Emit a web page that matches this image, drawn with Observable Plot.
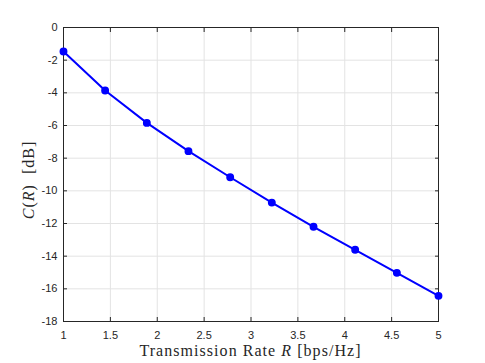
<!DOCTYPE html>
<html><head><meta charset="utf-8">
<script src="https://cdn.jsdelivr.net/npm/d3@7"></script>
<script src="https://cdn.jsdelivr.net/npm/@observablehq/plot@0.6"></script>
<style>body{margin:0;background:#fff}</style>
</head><body><div id="chart"></div>
<script>
const rates = [1, 1.444, 1.889, 2.333, 2.778, 3.222, 3.667, 4.111, 4.556, 5];
const cost = [-1.47, -3.86, -5.84, -7.57, -9.17, -10.72, -12.2, -13.61, -15.02, -16.43];
const xTicks = [1, 1.5, 2, 2.5, 3, 3.5, 4, 4.5, 5];
const yTicks = [0, -2, -4, -6, -8, -10, -12, -14, -16, -18];

const data = rates.map((r, i) => ({r, c: cost[i]}));
const axisColor = "#262626";
const W = 485, H = 363, mL = 63, mR = 47, mT = 27, mB = 42;

const plot = Plot.plot({
  width: W, height: H,
  marginLeft: mL, marginRight: mR, marginTop: mT, marginBottom: mB,
  style: {fontFamily: "'Liberation Sans', Arial, sans-serif", fontSize: "11px", color: axisColor, background: "#fff"},
  x: {domain: [1, 5], label: null},
  y: {domain: [-18, 0], label: null},
  marks: [
    Plot.gridX(xTicks, {stroke: "#e3e3e3", strokeOpacity: 1}),
    Plot.gridY(yTicks, {stroke: "#e3e3e3", strokeOpacity: 1}),
    Plot.axisX(xTicks, {anchor: "bottom", tickSize: -4, tickPadding: 14, tickFormat: d => String(d), stroke: axisColor, fill: axisColor}),
    Plot.axisX(xTicks, {anchor: "top", tickSize: -4, text: null, stroke: axisColor}),
    Plot.axisY(yTicks, {anchor: "left", tickSize: -4, tickPadding: 10, tickFormat: d => String(d), stroke: axisColor, fill: axisColor}),
    Plot.axisY(yTicks, {anchor: "right", tickSize: -4, text: null, stroke: axisColor}),
    Plot.frame({stroke: axisColor, strokeWidth: 1}),
    Plot.line(data, {x: "r", y: "c", stroke: "#0000ff", strokeWidth: 2}),
    Plot.dot(data, {x: "r", y: "c", fill: "#0000ff", stroke: "#0000ff", r: 3.2})
  ]
});

const svg = d3.select(plot);
const serif = "'Liberation Serif', 'DejaVu Serif', serif";
const xl = svg.append("text")
  .attr("x", mL + (W - mL - mR) / 2).attr("y", 356)
  .attr("text-anchor", "middle")
  .attr("font-family", serif).attr("font-size", 16).attr("letter-spacing", 1.05).attr("fill", axisColor);
xl.append("tspan").text("Transmission Rate ");
xl.append("tspan").attr("font-style", "italic").text("R");
xl.append("tspan").text(" [bps/Hz]");

const yl = svg.append("text")
  .attr("transform", `translate(34,180) rotate(-90)`)
  .attr("text-anchor", "middle")
  .attr("font-family", serif).attr("font-size", 16).attr("letter-spacing", 1).attr("fill", axisColor);
yl.append("tspan").attr("font-style", "italic").text("C");
yl.append("tspan").text("(");
yl.append("tspan").attr("font-style", "italic").text("R");
yl.append("tspan").text(")  [dB]");

document.getElementById("chart").appendChild(plot);
</script>
</body></html>
